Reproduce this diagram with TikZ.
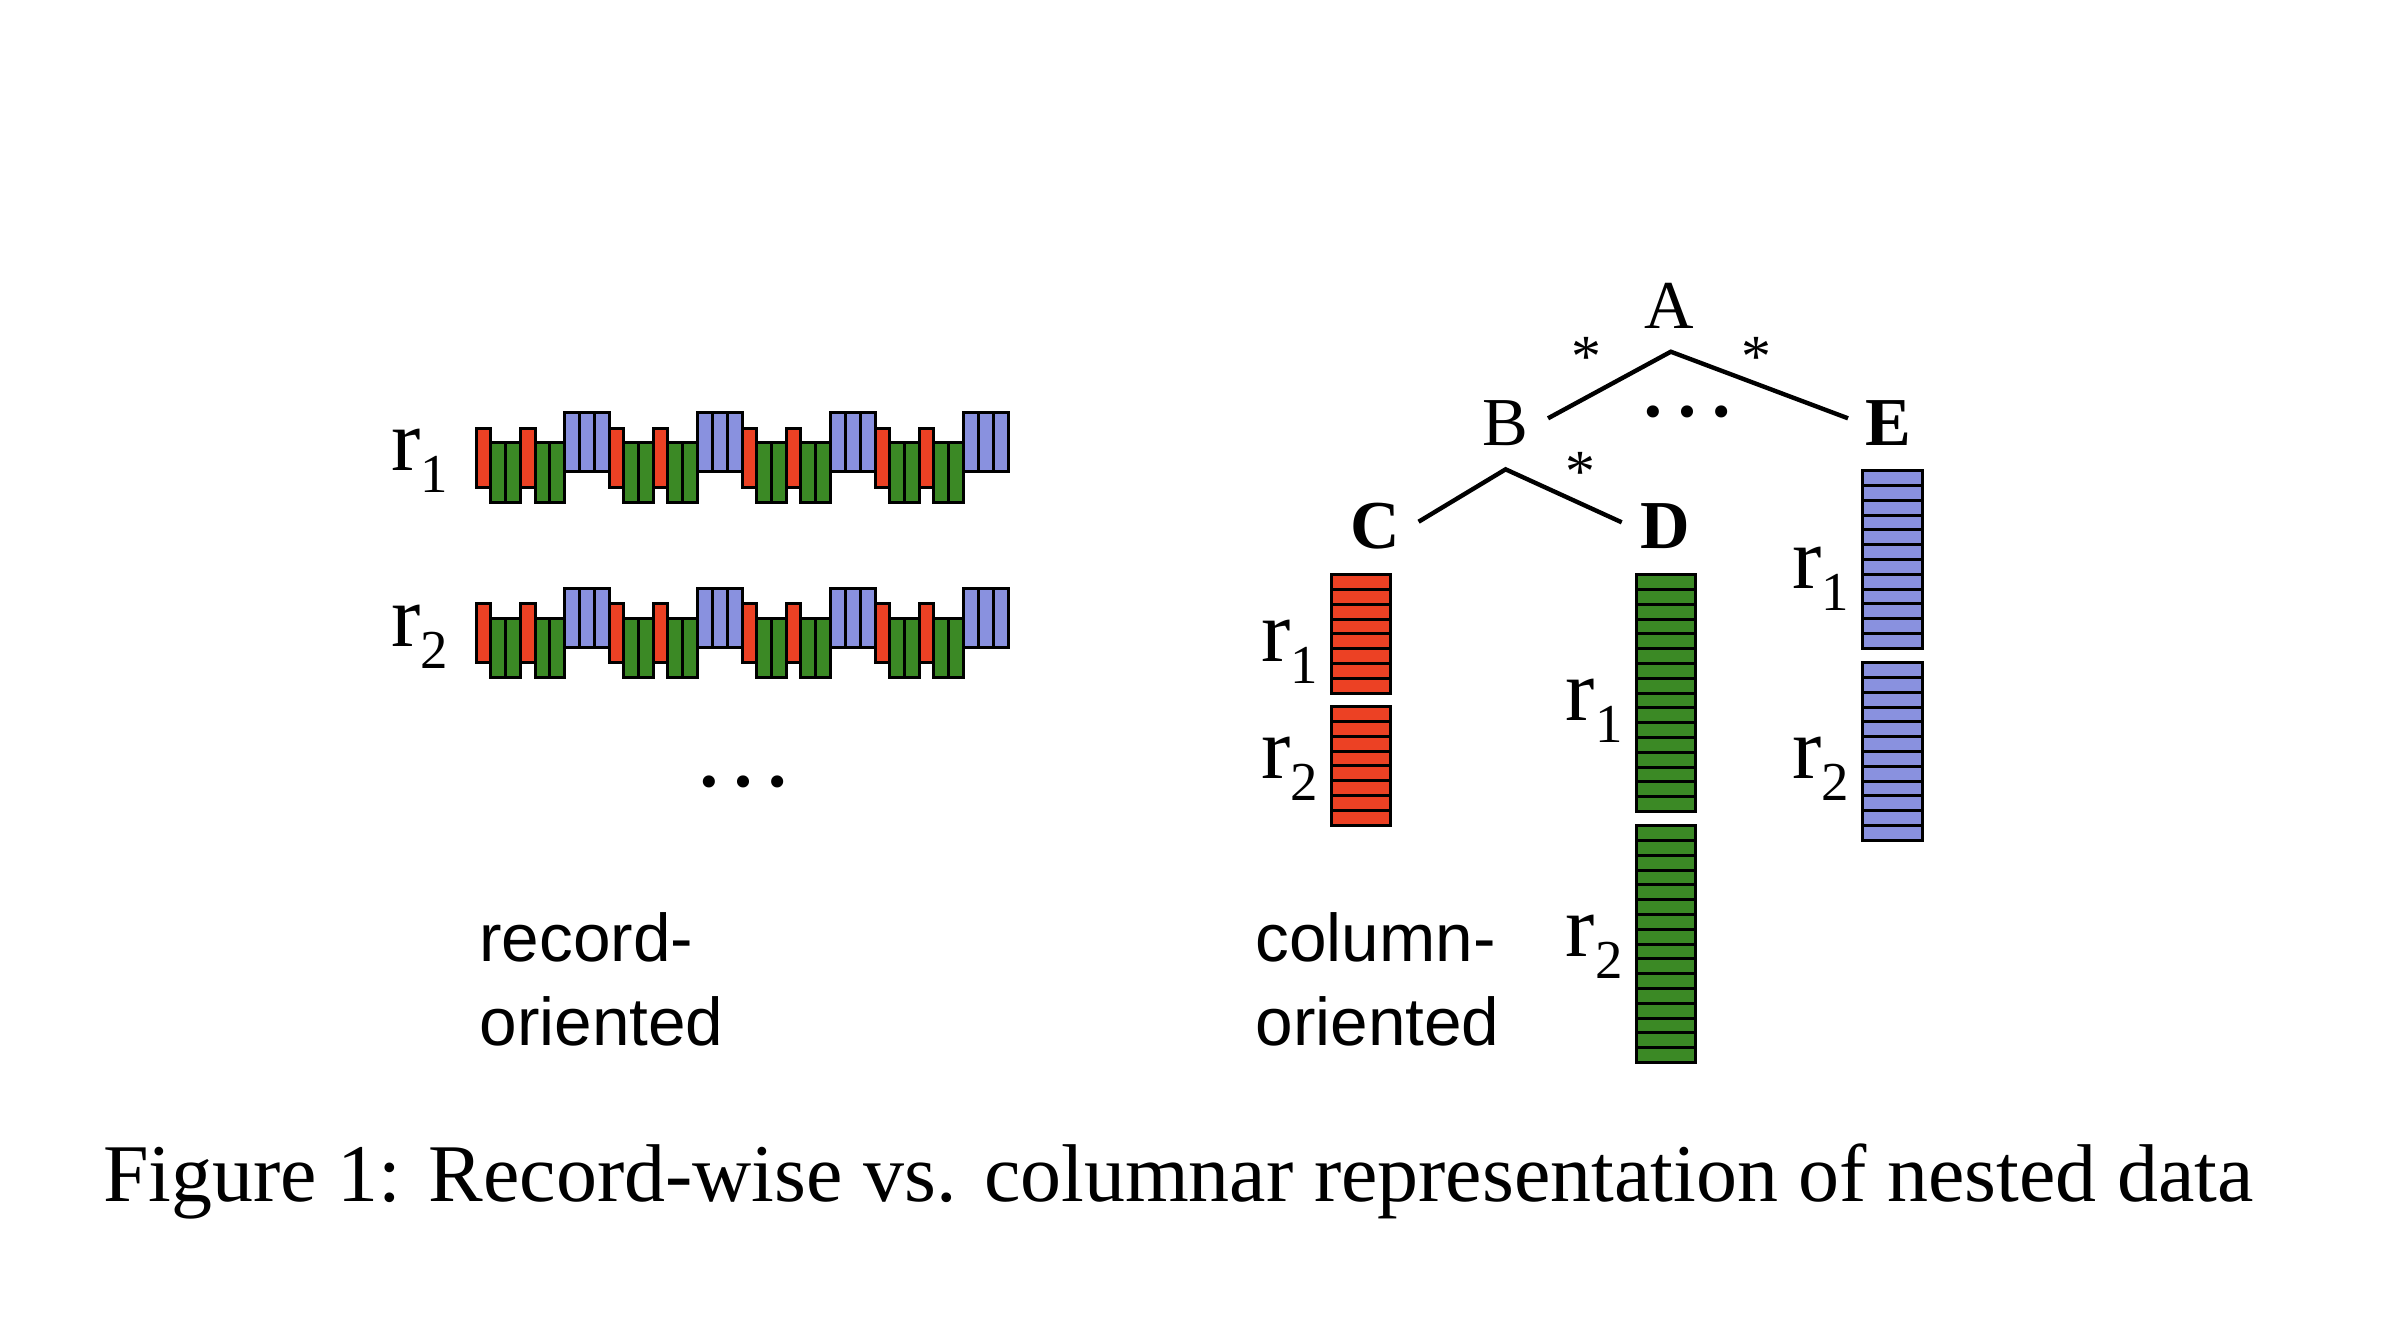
\documentclass[tikz,border=0pt]{standalone}
\usepackage{fontspec}
\setmainfont{Liberation Serif}
\newfontfamily\arialf{Liberation Sans}
\definecolor{recred}{RGB}{236,65,36}
\definecolor{recgreen}{RGB}{59,137,37}
\definecolor{recblue}{RGB}{137,145,223}
\newcommand{\rlab}[1]{\fontsize{25}{30}\selectfont r\raisebox{-0.22cm}{\fontsize{15.6}{18}\selectfont #1}}
\begin{document}
\begin{tikzpicture}[x=0.01cm,y=-0.01cm,
  cell/.style={draw=black, line width=0.85pt},
  txt/.style={inner sep=0pt, outer sep=0pt},
  treefont/.style={txt, font=\fontsize{19.5}{23}\selectfont},
  starfont/.style={txt, font=\fontsize{17}{20}\selectfont},
  dotsfont/.style={txt, font=\fontsize{29}{34}\selectfont},
  sansfont/.style={txt, anchor=base west, font=\arialf\fontsize{19.2}{23}\selectfont},
  edge/.style={line width=1.25pt}]
\useasboundingbox (0,0) rectangle (2404,1326);

% record-oriented rows
\foreach \dy in {0,175.8} {
  \foreach \g in {0,...,3} {
    \pgfmathsetmacro\xo{476.6+\g*132.9}
    \draw[cell, fill=recred] (\xo,428+\dy) rectangle ++(14.3,59);
    \foreach \k in {0,1}
      \draw[cell, fill=recgreen] (\xo+14.3+\k*14.9,442.3+\dy) rectangle ++(14.9,59.7);
    \draw[cell, fill=recred] (\xo+44.1,428+\dy) rectangle ++(14.3,59);
    \foreach \k in {0,1}
      \draw[cell, fill=recgreen] (\xo+58.4+\k*14.9,442.3+\dy) rectangle ++(14.9,59.7);
    \foreach \k in {0,1,2}
      \draw[cell, fill=recblue] (\xo+88.2+\k*14.9,412.3+\dy) rectangle ++(14.9,59.4);
  }
}
\node[txt, anchor=base west] (rr1) at (391.7,470.7) {\rlab{1}};
\node[txt, anchor=base west] (rr2) at (391.7,646.7) {\rlab{2}};
\node[dotsfont, anchor=base] (rdots) at (743.3,786) {\smash{…}};

\node[sansfont] (rec1) at (479.5,961.7) {record-};
\node[sansfont] (rec2) at (479.5,1045.5) {oriented};

% tree
\node[treefont, anchor=base] (A) at (1669.7,328.3) {A};
\node[treefont, anchor=base] (B) at (1505,445) {B};
\node[treefont, anchor=base] (E) at (1888.4,445) {\bfseries E};
\node[treefont, anchor=base] (C) at (1374.8,548.3) {\bfseries C};
\node[treefont, anchor=base] (D) at (1664.8,548.3) {\bfseries D};

\coordinate (apexA) at (1670.8,351.7);
\coordinate (endB) at (1548,418.3);
\coordinate (endE) at (1848,418.3);
\coordinate (apexB) at (1505.6,469.3);
\coordinate (endC) at (1418.6,521.7);
\coordinate (endD) at (1621.7,522.3);
\draw[edge] (endB) -- (apexA) -- (endE);
\draw[edge] (endC) -- (apexB) -- (endD);

\node[starfont, anchor=base] (s1) at (1586,376) {*};
\node[starfont, anchor=base] (s2) at (1756.5,376) {*};
\node[starfont, anchor=base] (s3) at (1580.4,491) {*};
\node[dotsfont, anchor=base] (tdots) at (1687.3,416) {\smash{…}};

% column-oriented blocks
\foreach \x/\y/\n/\c in {1331.5/574.7/8/recred, 1331.5/706.7/8/recred,
    1636.4/574.7/16/recgreen, 1636.4/825.7/16/recgreen,
    1862.8/470.7/12/recblue, 1862.8/662.7/12/recblue} {
  \foreach \k in {1,...,\n}
    \draw[cell, fill=\c] (\x,\y+\k*14.8-14.8) rectangle ++(59.4,14.8);
}
\node[txt, anchor=base west] (cr1) at (1261.4,661) {\rlab{1}};
\node[txt, anchor=base west] (cr2) at (1261.4,778.3) {\rlab{2}};
\node[txt, anchor=base west] (dr1) at (1565.9,720) {\rlab{1}};
\node[txt, anchor=base west] (dr2) at (1565.9,956.7) {\rlab{2}};
\node[txt, anchor=base west] (er1) at (1792.2,588) {\rlab{1}};
\node[txt, anchor=base west] (er2) at (1792.2,778.3) {\rlab{2}};

\node[sansfont] (col1) at (1255.5,961.7) {column-};
\node[sansfont] (col2) at (1255.5,1045.5) {oriented};

% caption
\node[txt, anchor=base, font=\fontsize{23.3}{28}\selectfont] (cap) at (1178.5,1201.7)
  {Figure 1: Record-wise vs. columnar representation of nested data};
\end{tikzpicture}
\end{document}
